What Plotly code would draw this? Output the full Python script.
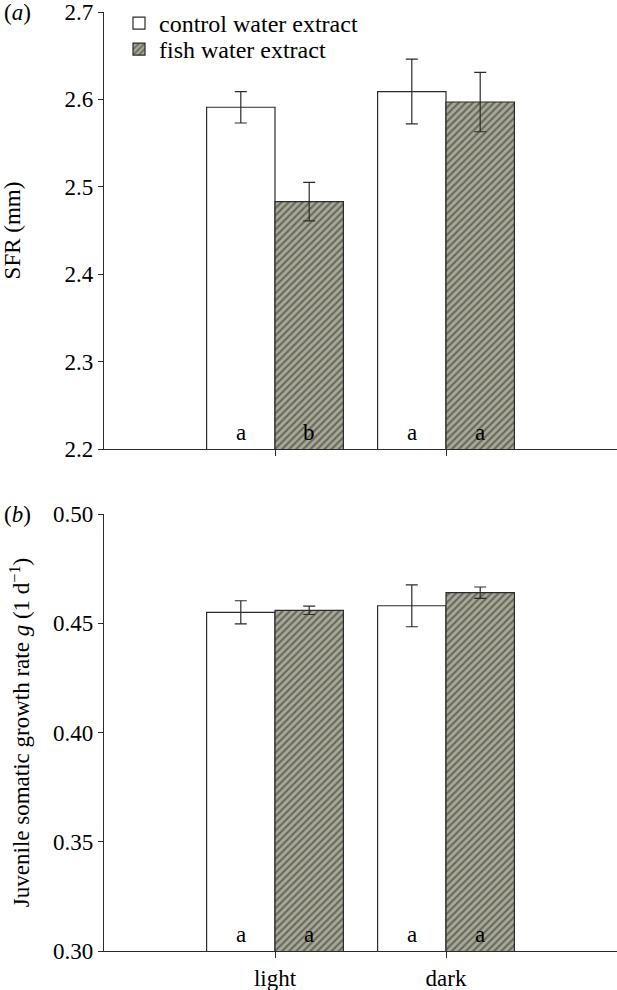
import plotly.graph_objects as go

# ---- data ----
conditions = ["light", "dark"]
series_names = ["control water extract", "fish water extract"]

sfr_control = [2.591, 2.609]
sfr_control_err = [0.018, 0.037]
sfr_fish = [2.483, 2.597]
sfr_fish_err = [0.022, 0.034]
sfr_letters_control = ["a", "a"]
sfr_letters_fish = ["b", "a"]

g_control = [0.455, 0.458]
g_control_err = [0.0053, 0.0096]
g_fish = [0.4559, 0.464]
g_fish_err = [0.0019, 0.0026]
g_letters_control = ["a", "a"]
g_letters_fish = ["a", "a"]

sfr_ticks = [2.2, 2.3, 2.4, 2.5, 2.6, 2.7]
g_ticks = [0.30, 0.35, 0.40, 0.45, 0.50]
g_ticklabels = ["0.30", "0.35", "0.40", "0.45", "0.50"]

# ---- style ----
FONT = "Liberation Serif"
FS = 23
AX = "#2b2b2b"
W, H = 617, 990
ML, MR, MT, MB = 104, 0, 12, 39
PW = W - ML - MR
PH = H - MT - MB
PANEL = 437
BARGAP = 0.2
bar_w = (1 - BARGAP) / 2

top_dom = [1 - PANEL / PH, 1]
bot_dom = [0, PANEL / PH]

fig = go.Figure()

FISH_BG = "#a9a997"
pattern = dict(shape="/", fgcolor="#262626", bgcolor=FISH_BG, size=5, solidity=0.42)


def add_pair(ctrl, ctrl_err, fish, fish_err, xa, ya, show):
    fig.add_trace(go.Bar(
        x=conditions, y=ctrl, name=series_names[0], xaxis=xa, yaxis=ya,
        marker=dict(color="white", line=dict(color=AX, width=1.2)),
        error_y=dict(type="data", array=ctrl_err, color=AX, thickness=1.2, width=6),
        showlegend=show, legend="legend"))
    fig.add_trace(go.Bar(
        x=conditions, y=fish, name=series_names[1], xaxis=xa, yaxis=ya,
        marker=dict(color=FISH_BG, line=dict(color=AX, width=1.2), pattern=pattern),
        error_y=dict(type="data", array=fish_err, color=AX, thickness=1.2, width=6),
        showlegend=show, legend="legend2"))


add_pair(sfr_control, sfr_control_err, sfr_fish, sfr_fish_err, "x", "y", True)
add_pair(g_control, g_control_err, g_fish, g_fish_err, "x2", "y2", False)

annotations = []
for letters_c, letters_f, xr, yr, ymin in [
    (sfr_letters_control, sfr_letters_fish, "x", "y", sfr_ticks[0]),
    (g_letters_control, g_letters_fish, "x2", "y2", g_ticks[0]),
]:
    for i in range(len(conditions)):
        for lab, off in [(letters_c[i], -bar_w / 2), (letters_f[i], bar_w / 2)]:
            annotations.append(dict(
                x=i + off, y=ymin, xref=xr, yref=yr, text=lab, showarrow=False,
                yanchor="bottom", xanchor="center", yshift=2,
                font=dict(family=FONT, size=FS, color="black")))


def px_to_paper_x(px):
    return (px - ML) / PW


def px_to_paper_y(py):
    return 1 - (py - MT) / PH


annotations.append(dict(text="(<i>a</i>)", x=px_to_paper_x(2), y=px_to_paper_y(12),
                        xref="paper", yref="paper", xanchor="left", yanchor="middle",
                        showarrow=False, font=dict(family=FONT, size=FS, color="black")))
annotations.append(dict(text="(<i>b</i>)", x=px_to_paper_x(2), y=px_to_paper_y(12 + PH - PANEL),
                        xref="paper", yref="paper", xanchor="left", yanchor="middle",
                        showarrow=False, font=dict(family=FONT, size=FS, color="black")))

axis_common = dict(showline=True, linecolor=AX, linewidth=1.2, ticks="outside",
                   tickcolor=AX, tickwidth=1.2, showgrid=False, zeroline=False,
                   tickfont=dict(family=FONT, size=FS, color="black"))

legend_common = dict(xanchor="left", yanchor="top", bgcolor="rgba(0,0,0,0)",
                     font=dict(family=FONT, size=FS + 1, color="black"))

fig.update_layout(
    width=W, height=H,
    margin=dict(l=ML, r=MR, t=MT, b=MB),
    paper_bgcolor="white", plot_bgcolor="white",
    barmode="group", bargap=BARGAP, bargroupgap=0,
    font=dict(family=FONT, size=FS, color="black"),
    legend=dict(x=px_to_paper_x(119), y=px_to_paper_y(1), **legend_common),
    legend2=dict(x=px_to_paper_x(119), y=px_to_paper_y(27), **legend_common),
    xaxis=dict(domain=[0, 1], anchor="y", range=[-1, 2], showticklabels=False,
               ticklen=6, **axis_common),
    yaxis=dict(domain=top_dom, anchor="x", range=[sfr_ticks[0], sfr_ticks[-1]],
               tickvals=sfr_ticks, ticklen=5,
               title=dict(text="SFR (mm)", standoff=37, font=dict(family=FONT, size=FS)),
               **axis_common),
    xaxis2=dict(domain=[0, 1], anchor="y2", range=[-1, 2], ticklen=6, **axis_common),
    yaxis2=dict(domain=bot_dom, anchor="x2", range=[g_ticks[0], g_ticks[-1]],
                tickvals=g_ticks, ticktext=g_ticklabels, ticklen=5,
                title=dict(text="Juvenile somatic growth rate <i>g</i> (1 d<sup>−1</sup>)",
                           standoff=16, font=dict(family=FONT, size=FS)),
                **axis_common),
    annotations=annotations,
)

fig.write_html("out.html", config={"displayModeBar": False},
               post_script="document.body.style.margin='0';document.body.style.overflow='hidden';")
